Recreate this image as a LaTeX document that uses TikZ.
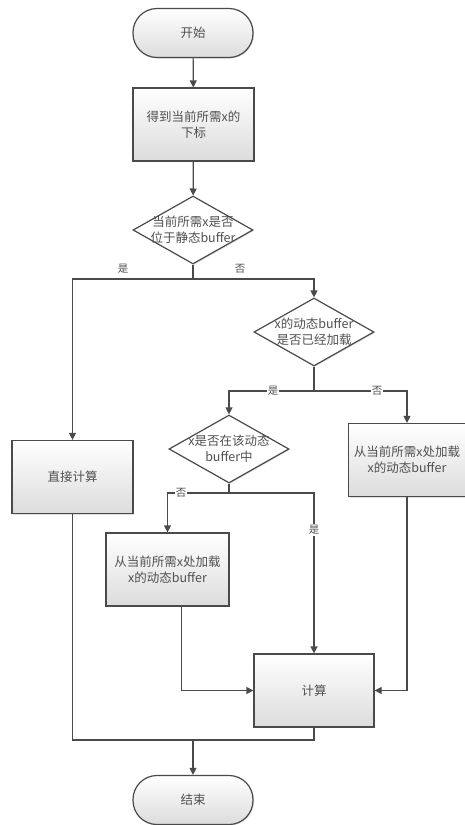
\documentclass[tikz,border=0pt]{standalone}
\usepackage{fontspec}
\setmainfont{Noto Sans CJK SC}
\usetikzlibrary{shapes.geometric,arrows.meta,calc,shadows}
\definecolor{edge}{HTML}{4A4A4A}
\definecolor{txt}{HTML}{505050}
\definecolor{boxbot}{HTML}{DCDCDC}
\begin{document}
\begin{tikzpicture}[x=1pt,y=-1pt,
  base/.style={draw=edge,line width=1.2pt,text=txt,font=\fontsize{12.5}{16}\selectfont,align=center,inner sep=0pt,
    drop shadow={shadow xshift=1pt,shadow yshift=-1pt,opacity=0.25}},
  termbox/.style={base,rectangle,rounded corners=24pt,minimum width=120pt,minimum height=49pt,top color=white,bottom color=boxbot},
  procbox/.style={base,rectangle,minimum width=121pt,minimum height=73pt,top color=white,bottom color=boxbot},
  decbox/.style={base,diamond,fill=white,minimum width=120pt,minimum height=68pt},
  dtext/.style={text=txt,font=\fontsize{12.5}{16}\selectfont,align=center,inner sep=0pt},
  conn/.style={draw=edge,line width=1.2pt},
  arr/.style={conn,-{Triangle[width=7pt,length=7pt]}},
  lab/.style={text=txt,font=\fontsize{10.5}{12}\selectfont,inner sep=1pt},
  flab/.style={lab,fill=white}]
\useasboundingbox[fill=white] (0,0) rectangle (465,825);

\node[termbox] (start) at (193,33) {开始};
\node[procbox] (idx) at (193.5,124.5) {得到当前所需x的\\下标};
\node[decbox] (d1) at (193,230) {};
\node[dtext] (d1t) at (193,230) {当前所需x是否\\位于静态buffer};
\node[decbox] (d2) at (314,332) {};
\node[dtext] (d2t) at (314,332) {x的动态buffer\\是否已经加载};
\node[decbox] (d3) at (229,449) {};
\node[dtext] (d3t) at (229,449) {x是否在该动态\\buffer中};
\node[procbox] (direct) at (72.5,477) {直接计算};
\node[procbox,minimum width=117pt] (rload) at (407,460) {从当前所需x处加载\\x的动态buffer};
\node[procbox,minimum width=123pt] (lload) at (167.5,569.5) {从当前所需x处加载\\x的动态buffer};
\node[procbox,minimum width=120pt] (calcb) at (314,690.5) {计算};
\node[termbox] (stop) at (193,800) {结束};

\coordinate (j1) at (193,279);
\coordinate (j2) at (314,391);
\coordinate (j3) at (229,493);
\coordinate (j4) at (193,740);

\draw[arr] (start) -- (idx);
\draw[arr] (idx) -- (d1);
\draw[conn] (d1.south) -- (j1);
\draw[arr] (j1) -| (direct.north);
\draw[arr] (j1) -| (d2.north);
\node[lab] (l1) at (123,269) {是};
\node[lab] (l2) at (240,269) {否};

\draw[conn] (d2.south) -- (j2);
\draw[arr] (j2) -| (d3.north);
\draw[arr] (j2) -| (rload.north);
\node[flab] (l3) at (273,391) {是};
\node[flab] (l4) at (377,391) {否};

\draw[conn] (d3.south) -- (j3);
\draw[arr] (j3) -| (lload.north);
\draw[arr] (j3) -| (calcb.north);
\node[flab] (l5) at (181,493) {否};
\node[flab] (l6) at (314,530) {是};

\draw[arr] ($(lload.south)+(14,0)$) |- (calcb.west);
\draw[arr] (rload.south) |- (calcb.east);

\draw[conn] (direct.south) |- (j4);
\draw[conn] (calcb.south) |- (j4);
\draw[arr] (j4) -- (stop.north);
\end{tikzpicture}
\end{document}
